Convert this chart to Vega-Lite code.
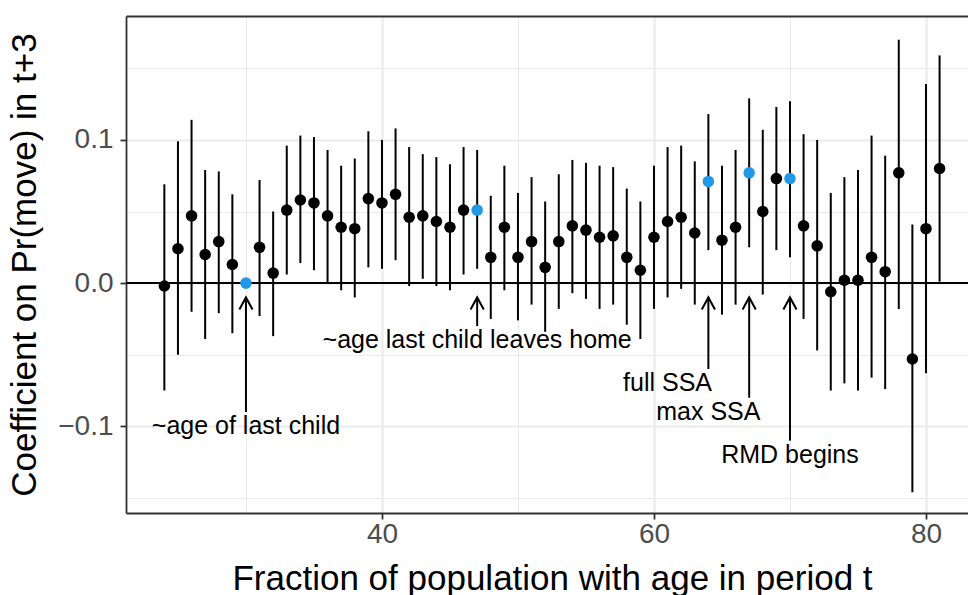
{
  "$schema": "https://vega.github.io/schema/vega-lite/v6.json",
  "width": 842,
  "height": 497,
  "autosize": {"type": "none"},
  "padding": {"left": 126, "top": 16, "right": 0, "bottom": 82},
  "background": "white",
  "config": {"view": {"stroke": null}, "font": "Liberation Sans"},
  "datasets": {
    "coef": [
      {"age": 24, "est": -0.002, "lo": -0.075, "hi": 0.069, "annotated": "no"},
      {"age": 25, "est": 0.024, "lo": -0.050, "hi": 0.099, "annotated": "no"},
      {"age": 26, "est": 0.047, "lo": -0.020, "hi": 0.114, "annotated": "no"},
      {"age": 27, "est": 0.020, "lo": -0.039, "hi": 0.079, "annotated": "no"},
      {"age": 28, "est": 0.029, "lo": -0.021, "hi": 0.078, "annotated": "no"},
      {"age": 29, "est": 0.013, "lo": -0.035, "hi": 0.062, "annotated": "no"},
      {"age": 30, "est": 0.000, "lo": null, "hi": null, "annotated": "yes"},
      {"age": 31, "est": 0.025, "lo": -0.023, "hi": 0.072, "annotated": "no"},
      {"age": 32, "est": 0.007, "lo": -0.037, "hi": 0.050, "annotated": "no"},
      {"age": 33, "est": 0.051, "lo": 0.006, "hi": 0.096, "annotated": "no"},
      {"age": 34, "est": 0.058, "lo": 0.014, "hi": 0.103, "annotated": "no"},
      {"age": 35, "est": 0.056, "lo": 0.009, "hi": 0.102, "annotated": "no"},
      {"age": 36, "est": 0.047, "lo": 0.000, "hi": 0.093, "annotated": "no"},
      {"age": 37, "est": 0.039, "lo": -0.005, "hi": 0.082, "annotated": "no"},
      {"age": 38, "est": 0.038, "lo": -0.010, "hi": 0.087, "annotated": "no"},
      {"age": 39, "est": 0.059, "lo": 0.011, "hi": 0.106, "annotated": "no"},
      {"age": 40, "est": 0.056, "lo": 0.010, "hi": 0.100, "annotated": "no"},
      {"age": 41, "est": 0.062, "lo": 0.016, "hi": 0.108, "annotated": "no"},
      {"age": 42, "est": 0.046, "lo": -0.002, "hi": 0.095, "annotated": "no"},
      {"age": 43, "est": 0.047, "lo": 0.003, "hi": 0.090, "annotated": "no"},
      {"age": 44, "est": 0.043, "lo": -0.002, "hi": 0.088, "annotated": "no"},
      {"age": 45, "est": 0.039, "lo": -0.005, "hi": 0.083, "annotated": "no"},
      {"age": 46, "est": 0.051, "lo": 0.006, "hi": 0.095, "annotated": "no"},
      {"age": 47, "est": 0.051, "lo": 0.010, "hi": 0.093, "annotated": "yes"},
      {"age": 48, "est": 0.018, "lo": -0.025, "hi": 0.061, "annotated": "no"},
      {"age": 49, "est": 0.039, "lo": -0.005, "hi": 0.082, "annotated": "no"},
      {"age": 50, "est": 0.018, "lo": -0.026, "hi": 0.063, "annotated": "no"},
      {"age": 51, "est": 0.029, "lo": -0.015, "hi": 0.074, "annotated": "no"},
      {"age": 52, "est": 0.011, "lo": -0.034, "hi": 0.057, "annotated": "no"},
      {"age": 53, "est": 0.029, "lo": -0.018, "hi": 0.076, "annotated": "no"},
      {"age": 54, "est": 0.040, "lo": -0.007, "hi": 0.086, "annotated": "no"},
      {"age": 55, "est": 0.037, "lo": -0.011, "hi": 0.084, "annotated": "no"},
      {"age": 56, "est": 0.032, "lo": -0.018, "hi": 0.082, "annotated": "no"},
      {"age": 57, "est": 0.033, "lo": -0.015, "hi": 0.081, "annotated": "no"},
      {"age": 58, "est": 0.018, "lo": -0.029, "hi": 0.066, "annotated": "no"},
      {"age": 59, "est": 0.009, "lo": -0.039, "hi": 0.057, "annotated": "no"},
      {"age": 60, "est": 0.032, "lo": -0.018, "hi": 0.082, "annotated": "no"},
      {"age": 61, "est": 0.043, "lo": -0.010, "hi": 0.095, "annotated": "no"},
      {"age": 62, "est": 0.046, "lo": -0.004, "hi": 0.096, "annotated": "no"},
      {"age": 63, "est": 0.035, "lo": -0.015, "hi": 0.085, "annotated": "no"},
      {"age": 64, "est": 0.071, "lo": 0.023, "hi": 0.118, "annotated": "yes"},
      {"age": 65, "est": 0.030, "lo": -0.022, "hi": 0.082, "annotated": "no"},
      {"age": 66, "est": 0.039, "lo": -0.015, "hi": 0.093, "annotated": "no"},
      {"age": 67, "est": 0.077, "lo": 0.025, "hi": 0.129, "annotated": "yes"},
      {"age": 68, "est": 0.050, "lo": -0.008, "hi": 0.107, "annotated": "no"},
      {"age": 69, "est": 0.073, "lo": 0.023, "hi": 0.123, "annotated": "no"},
      {"age": 70, "est": 0.073, "lo": 0.018, "hi": 0.127, "annotated": "yes"},
      {"age": 71, "est": 0.040, "lo": -0.025, "hi": 0.104, "annotated": "no"},
      {"age": 72, "est": 0.026, "lo": -0.047, "hi": 0.100, "annotated": "no"},
      {"age": 73, "est": -0.006, "lo": -0.075, "hi": 0.063, "annotated": "no"},
      {"age": 74, "est": 0.002, "lo": -0.070, "hi": 0.074, "annotated": "no"},
      {"age": 75, "est": 0.002, "lo": -0.075, "hi": 0.079, "annotated": "no"},
      {"age": 76, "est": 0.018, "lo": -0.066, "hi": 0.103, "annotated": "no"},
      {"age": 77, "est": 0.008, "lo": -0.074, "hi": 0.089, "annotated": "no"},
      {"age": 78, "est": 0.077, "lo": -0.018, "hi": 0.170, "annotated": "no"},
      {"age": 79, "est": -0.053, "lo": -0.146, "hi": 0.041, "annotated": "no"},
      {"age": 80, "est": 0.038, "lo": -0.063, "hi": 0.139, "annotated": "no"},
      {"age": 81, "est": 0.080, "lo": 0.001, "hi": 0.159, "annotated": "no"}
    ],
    "notes": [
      {"label": "~age of last child", "age": 30, "pos": -0.10},
      {"label": "~age last child leaves home", "age": 47, "pos": -0.04},
      {"label": "full SSA", "age": 61, "pos": -0.07},
      {"label": "max SSA", "age": 64, "pos": -0.09},
      {"label": "RMD begins", "age": 70, "pos": -0.12}
    ],
    "arrows": [
      {"age": 30, "from": -0.09, "to": -0.01},
      {"age": 47, "from": -0.03, "to": -0.01},
      {"age": 64, "from": -0.06, "to": -0.01},
      {"age": 67, "from": -0.08, "to": -0.01},
      {"age": 70, "from": -0.11, "to": -0.01}
    ]
  },
  "layer": [
    {
      "data": {"name": "coef"},
      "mark": {"type": "rule", "color": "black", "strokeWidth": 2},
      "encoding": {
        "x": {
          "field": "age", "type": "quantitative",
          "scale": {"domain": [21.18, 83.09], "nice": false, "zero": false},
          "axis": {
            "values": [30, 40, 50, 60, 70, 80],
            "grid": true,
            "gridColor": "#EBEBEB",
            "gridWidth": {"condition": {"test": "datum.value % 20 == 0", "value": 2.2}, "value": 1.1},
            "tickOpacity": {"condition": {"test": "datum.value % 20 == 0", "value": 1}, "value": 0},
            "labelExpr": "datum.value % 20 == 0 ? datum.label : ''",
            "tickColor": "#333333", "tickSize": 6, "tickWidth": 1.8,
            "domainColor": "#333333", "domainWidth": 1.8,
            "labelFont": "Liberation Sans", "labelFontSize": 28, "labelColor": "#4D4D4D", "labelPadding": 1,
            "title": "Fraction of population with age in period t",
            "titleFont": "Liberation Sans", "titleFontSize": 35, "titleFontWeight": "normal", "titleColor": "black",
            "titleX": 426, "titleY": 76, "titleAlign": "center", "titleBaseline": "alphabetic"
          }
        },
        "y": {
          "field": "lo", "type": "quantitative",
          "scale": {"domain": [-0.1605, 0.1865], "nice": false, "zero": false},
          "axis": {
            "values": [-0.15, -0.1, -0.05, 0, 0.05, 0.1, 0.15],
            "grid": true,
            "gridColor": "#EBEBEB",
            "gridWidth": {"condition": {"test": "abs(round(datum.value * 100)) % 10 == 0", "value": 2.2}, "value": 1.1},
            "tickOpacity": {"condition": {"test": "abs(round(datum.value * 100)) % 10 == 0", "value": 1}, "value": 0},
            "labelExpr": "abs(round(datum.value * 100)) % 10 == 0 ? (datum.value < -0.001 ? '−' + format(-datum.value, '.1f') : format(datum.value, '.1f')) : ''",
            "tickColor": "#333333", "tickSize": 6, "tickWidth": 1.8,
            "domainColor": "#333333", "domainWidth": 1.8,
            "labelFont": "Liberation Sans", "labelFontSize": 28, "labelColor": "#4D4D4D", "labelPadding": 7,
            "title": "Coefficient on Pr(move) in t+3",
            "titleFont": "Liberation Sans", "titleFontSize": 35, "titleFontWeight": "normal", "titleColor": "black",
            "titleX": -91, "titleY": 248.5, "titleAngle": 270, "titleAlign": "center", "titleBaseline": "alphabetic"
          }
        },
        "y2": {"field": "hi"}
      }
    },
    {
      "data": {"values": [{}]},
      "mark": {"type": "rule", "color": "black", "strokeWidth": 2},
      "encoding": {
        "y": {"datum": 0, "type": "quantitative", "scale": {"domain": [-0.1605, 0.1865], "nice": false, "zero": false}, "axis": null}
      }
    },
    {
      "data": {"name": "coef"},
      "mark": {"type": "circle", "size": 133, "opacity": 1},
      "encoding": {
        "x": {
          "field": "age", "type": "quantitative",
          "scale": {"domain": [21.18, 83.09], "nice": false, "zero": false},
          "axis": {"orient": "top", "domain": true, "domainColor": "#333333", "domainWidth": 1.8, "labels": false, "ticks": false, "grid": false, "title": null}
        },
        "y": {"field": "est", "type": "quantitative", "scale": {"domain": [-0.1605, 0.1865], "nice": false, "zero": false}, "axis": null},
        "color": {
          "field": "annotated", "type": "nominal",
          "scale": {"domain": ["no", "yes"], "range": ["black", "#2199E8"]},
          "legend": null
        }
      }
    },
    {
      "data": {"name": "arrows"},
      "mark": {"type": "rule", "color": "black", "strokeWidth": 2},
      "encoding": {
        "x": {"field": "age", "type": "quantitative", "scale": {"domain": [21.18, 83.09], "nice": false, "zero": false}, "axis": null},
        "y": {"field": "from", "type": "quantitative", "scale": {"domain": [-0.1605, 0.1865], "nice": false, "zero": false}, "axis": null},
        "y2": {"field": "to"}
      }
    },
    {
      "data": {"name": "arrows"},
      "mark": {"type": "point", "shape": "M-0.55,1L0,0L0.55,1", "size": 576, "filled": false, "color": "black", "strokeWidth": 2, "opacity": 1},
      "encoding": {
        "x": {"field": "age", "type": "quantitative", "scale": {"domain": [21.18, 83.09], "nice": false, "zero": false}, "axis": null},
        "y": {"field": "to", "type": "quantitative", "scale": {"domain": [-0.1605, 0.1865], "nice": false, "zero": false}, "axis": null}
      }
    },
    {
      "data": {"name": "notes"},
      "mark": {"type": "text", "font": "Liberation Sans", "fontSize": 25, "color": "black", "align": "center", "baseline": "middle"},
      "encoding": {
        "x": {"field": "age", "type": "quantitative", "scale": {"domain": [21.18, 83.09], "nice": false, "zero": false}, "axis": null},
        "y": {"field": "pos", "type": "quantitative", "scale": {"domain": [-0.1605, 0.1865], "nice": false, "zero": false}, "axis": null},
        "text": {"field": "label"}
      }
    }
  ],
  "resolve": {"axis": {"x": "independent", "y": "independent"}}
}
